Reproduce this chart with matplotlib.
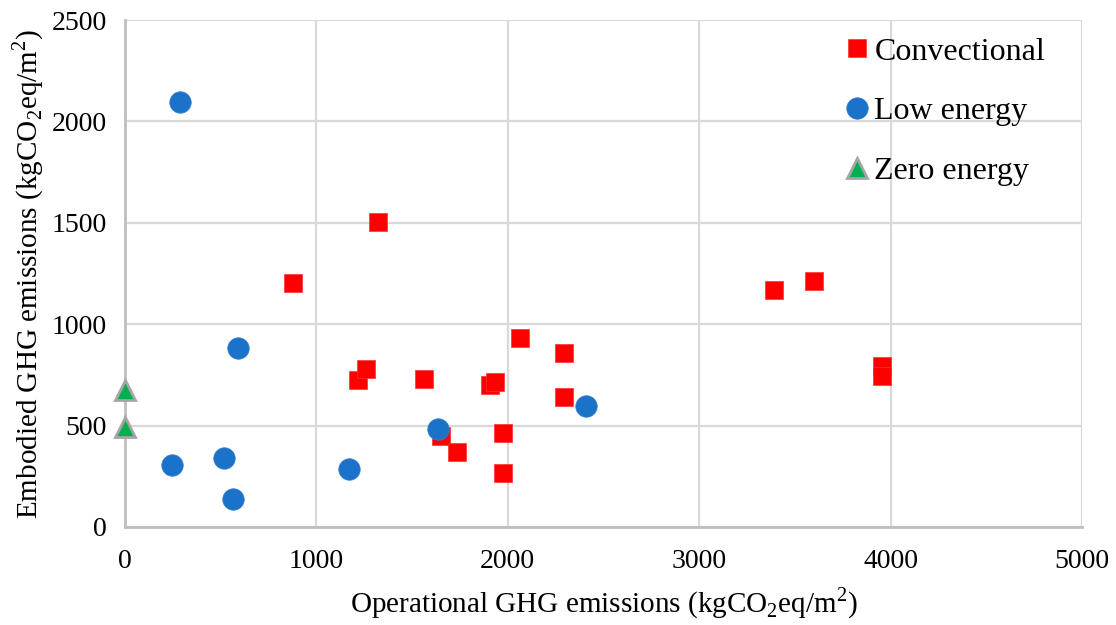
import matplotlib.pyplot as plt

plt.rcParams['font.family'] = ['Liberation Serif', 'DejaVu Serif']

# Convectional buildings
conv_x = [880, 1320, 1219, 1260, 1564, 1909, 1935, 1652, 1736, 1977, 1977,
          2066, 2296, 2296, 3957, 3957, 3389, 3598]
conv_y = [1205, 1505, 725, 779, 730, 700, 715, 451, 370, 464, 266,
          932, 858, 641, 796, 747, 1169, 1213]

# Low energy buildings
low_x = [288, 591, 246, 518, 565, 1172, 1637, 2411]
low_y = [2096, 883, 306, 340, 138, 286, 483, 597]

# Zero energy buildings
zero_x = [0, 0]
zero_y = [675, 493]

fig = plt.figure(figsize=(11.16, 6.25), dpi=100)
ax = fig.add_axes([0.112, 0.1568, 0.8575, 0.8112])

ax.plot(conv_x, conv_y, 's', color='#FF0000', markersize=13.5, markeredgecolor='#FF3030',
        markeredgewidth=0.5, label='Convectional', zorder=3)
ax.plot(low_x, low_y, 'o', color='#1B72C9', markersize=15.5, markeredgecolor='#3A85D0',
        markeredgewidth=0.5, label='Low energy', zorder=4)
ax.plot(zero_x, zero_y, '^', color='#00B050', markersize=14, markeredgecolor='#A5A5A5',
        markeredgewidth=2, label='Zero energy', zorder=5, clip_on=False)

ax.set_xlim(0, 5000)
ax.set_ylim(0, 2500)
ax.set_xticks([0, 1000, 2000, 3000, 4000, 5000])
ax.set_yticks([0, 500, 1000, 1500, 2000, 2500])
ax.grid(True, color='#D9D9D9', linewidth=1.6)
ax.set_axisbelow(True)
ax.tick_params(length=0, labelsize=20, colors='#000000')
ax.tick_params(axis='x', pad=16)
ax.tick_params(axis='y', pad=13)
for s in ['top', 'right']:
    ax.spines[s].set_visible(False)
for s in ['left', 'bottom']:
    ax.spines[s].set_color('#BFBFBF')
    ax.spines[s].set_linewidth(2)

ax.set_xlabel(r'Operational GHG emissions (kgCO$_\mathregular{2}$eq/m$^\mathregular{2}$)',
              fontsize=21, labelpad=8)
ax.set_ylabel(r'Embodied GHG emissions (kgCO$_\mathregular{2}$eq/m$^\mathregular{2}$)',
              fontsize=21, labelpad=4)

ax.legend(loc='upper right', frameon=False, fontsize=23, handletextpad=0.0,
          labelspacing=0.95, borderaxespad=0.3, markerscale=1.0, handlelength=1.1,
          bbox_to_anchor=(0.985, 1.01))

fig.savefig('out.png', dpi=100)
